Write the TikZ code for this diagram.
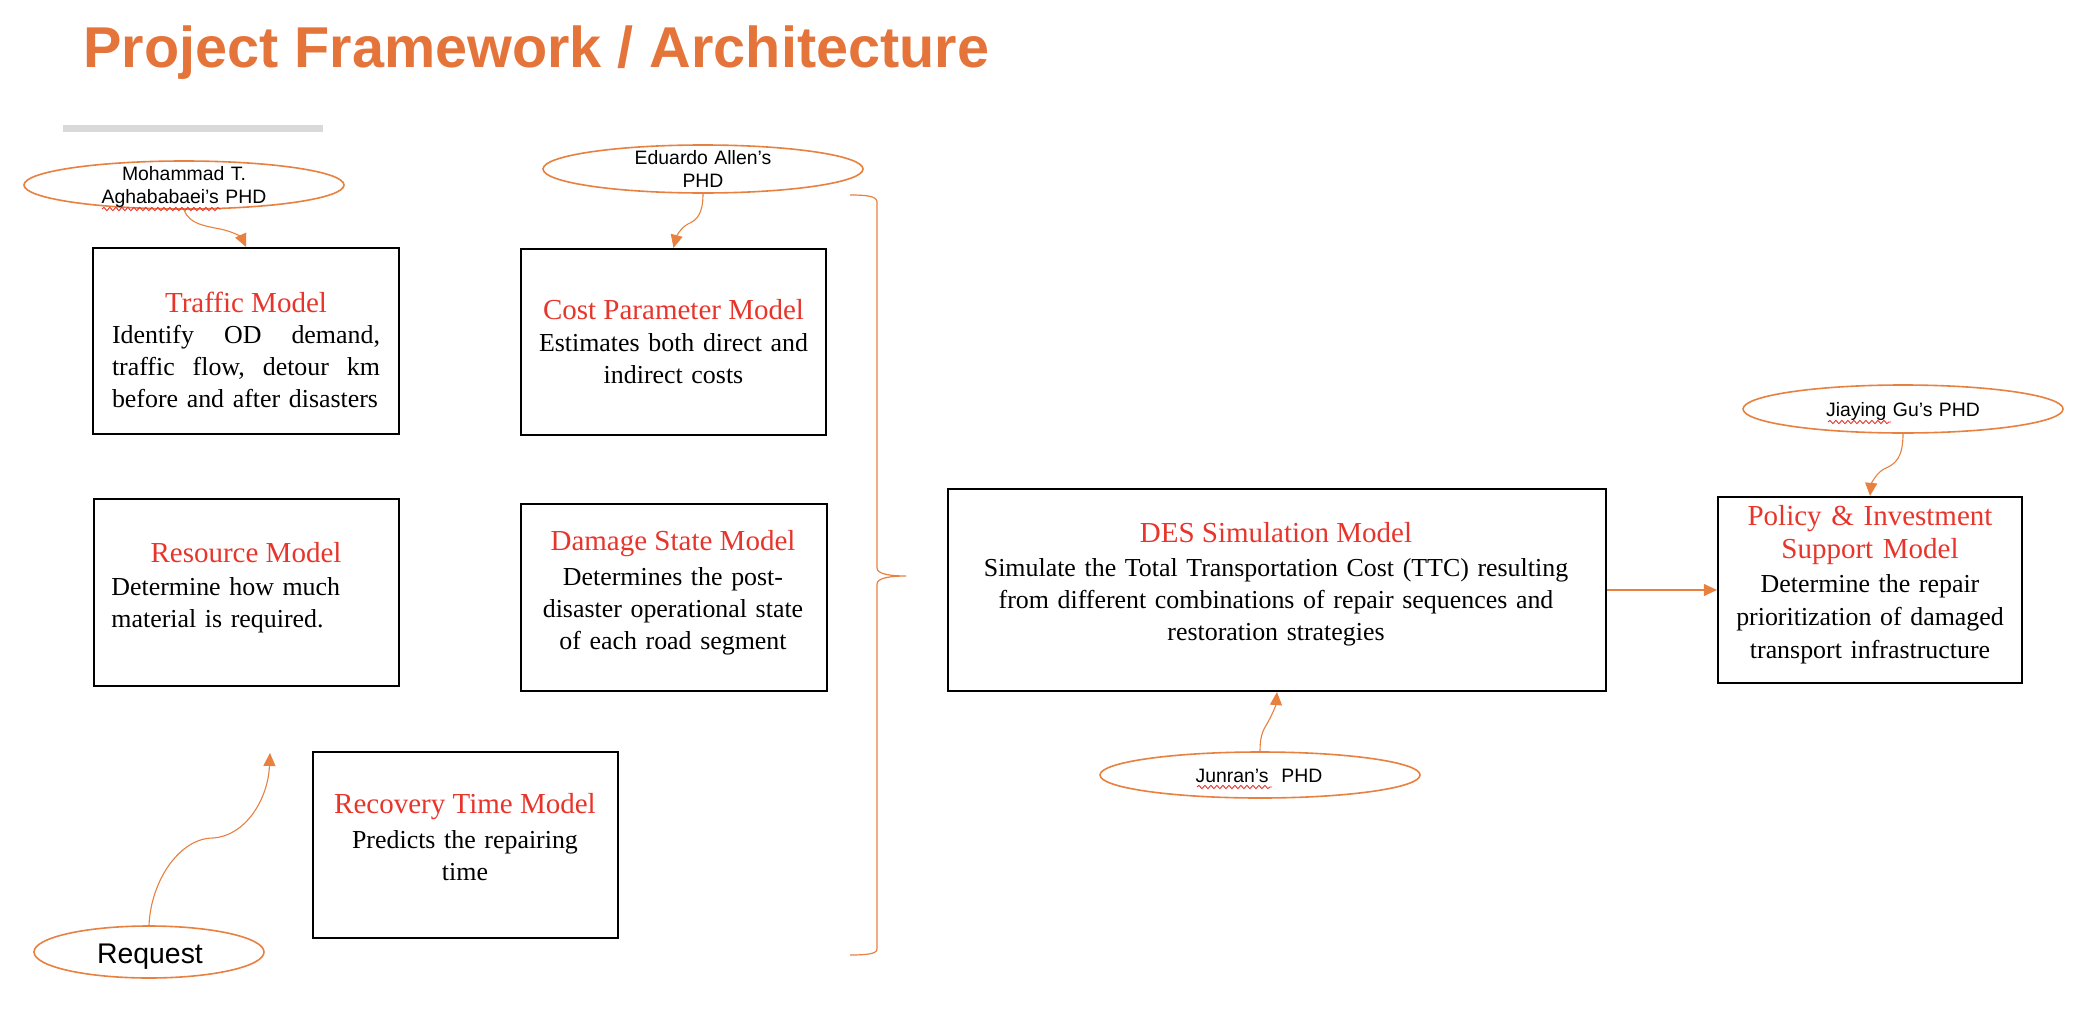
\documentclass[tikz,border=0pt]{standalone}
\usepackage{fontspec}
\setmainfont{Liberation Serif}
\newfontfamily\arialf{Liberation Sans}
\usetikzlibrary{shapes.geometric,arrows.meta,decorations.pathmorphing}
\definecolor{ttl}{HTML}{E4743A}
\definecolor{org}{HTML}{E8803F}
\definecolor{mred}{HTML}{E8352B}
\definecolor{bar}{HTML}{D9D9D9}
\begin{document}
\begin{tikzpicture}[x=0.5pt,y=-0.5pt,
  mbox/.style={draw=black,line width=1.1pt,rectangle,inner sep=0pt},
  phd/.style={ellipse,draw=org,line width=0.8pt,inner sep=0pt,minimum width=160pt,minimum height=24pt},
  phdtxt/.style={inner sep=0pt,anchor=base,text width=160pt,align=center,font=\arialf\fontsize{9.7}{11.5}\selectfont},
  mtitle/.style={inner sep=0pt,anchor=base,text=mred,font=\fontsize{14.5}{16}\selectfont},
  mbody/.style={inner sep=0pt,anchor=base,text width=#1,align=center,font=\fontsize{12.95}{16}\selectfont},
  conn/.style={draw=org,line width=0.55pt,-{Triangle[length=6.5pt,width=6pt]},fill=none},
  wavy/.style={draw=mred,line width=0.45pt,decorate,decoration={snake,amplitude=0.8pt,segment length=3pt}}
]
\useasboundingbox (0,0) rectangle (2092,1022);
\fill[white] (0,0) rectangle (2092,1022);

% title
\node[anchor=base west,inner sep=0pt,text=ttl,font=\arialf\bfseries\fontsize{28.8}{35}\selectfont] (title) at (83,68) {Project Framework / Architecture};
\fill[bar] (63,125) rectangle (323,132);

% boxes
\node[mbox,minimum width=153pt,minimum height=93pt] (traffic) at (246,341) {};
\node[mbox,minimum width=152.5pt,minimum height=93pt] (cost) at (673.5,342) {};
\node[mbox,minimum width=152.5pt,minimum height=93.5pt] (resource) at (246.5,592.5) {};
\node[mbox,minimum width=153pt,minimum height=93.5pt] (damage) at (674,597.5) {};
\node[mbox,minimum width=152.5pt,minimum height=93pt] (recovery) at (465.5,845) {};
\node[mbox,minimum width=329pt,minimum height=101pt] (des) at (1277,590) {};
\node[mbox,minimum width=152pt,minimum height=93pt] (policy) at (1870,590) {};

% box texts
\node[mtitle] (tTraffic) at (246,312) {Traffic Model};
\node[mbody=134pt,align=left] (bTraffic) at (246,343) {\makebox[134pt][l]{Identify\hfill OD\hfill demand,}\\\makebox[134pt][l]{traffic\hfill flow,\hfill detour\hfill km}\\\makebox[134pt][l]{before and after disasters}};

\node[mtitle] (tCost) at (673.5,319) {Cost Parameter Model};
\node[mbody=160pt] (bCost) at (673.5,351) {Estimates both direct and\\indirect costs};

\node[mtitle] (tResource) at (246,562) {Resource Model};
\node[mbody=140pt,align=left,anchor=base west] (bResource) at (111,595) {Determine how much\\material is required.};

\node[mtitle] (tDamage) at (673,550) {Damage State Model};
\node[mbody=160pt] (bDamage) at (673,585) {Determines the post-\\disaster operational state\\of each road segment};

\node[mtitle] (tRecovery) at (465,813) {Recovery Time Model};
\node[mbody=160pt] (bRecovery) at (465,848) {Predicts the repairing\\time};

\node[mtitle] (tDes) at (1276,542) {DES Simulation Model};
\node[mbody=320pt] (bDes) at (1276,576) {Simulate the Total Transportation Cost (TTC) resulting\\from different combinations of repair sequences and\\restoration strategies};

\node[mtitle,text width=150pt,align=center,font=\fontsize{14.5}{16.5}\selectfont] (tPolicy) at (1870,525) {Policy \& Investment\\Support Model};
\node[mbody=150pt,font=\fontsize{12.95}{16.5}\selectfont] (bPolicy) at (1870,592) {Determine the repair\\prioritization of damaged\\transport infrastructure};

% ellipses
\node[phd] (moh) at (184,185) {};
\node[phdtxt] (mohtxt) at (184,180) {Mohammad T.\\Aghababaei’s PHD};
\node[phd] (edu) at (703,169) {};
\node[phdtxt] (edutxt) at (703,164) {Eduardo Allen’s\\PHD};
\node[phd] (jia) at (1903,409) {};
\node[phdtxt] (jiatxt) at (1903,416) {Jiaying Gu’s PHD};
\node[phd,minimum height=23pt] (jun) at (1260,775) {};
\node[phdtxt] (juntxt) at (1259,782) {Junran’s\ \ PHD};
\node[phd,minimum width=115pt,minimum height=26pt] (req) at (149,952) {};
\node[phdtxt,font=\arialf\fontsize{14.2}{16}\selectfont] (reqtxt) at (150,963) {Request};

% spell-check underlines
\draw[wavy] (102,209) -- (221,209);
\draw[wavy] (1197,787) -- (1272,787);
\draw[wavy] (1828,422) -- (1891,422);

% connectors
\coordinate (reqend) at (270,753);
\draw[conn] (moh.south) .. controls (189,224) and (205,226) .. (220,229) .. controls (235,232) and (242,238) .. (traffic.north);
\draw[conn] (edu.south) .. controls (703,214) and (697,220) .. (688,224) .. controls (680,228) and (676,238) .. (cost.north);
\draw[conn] (jia.south) .. controls (1903,458) and (1895,464) .. (1886,468) .. controls (1876,472) and (1871,485) .. (policy.north);
\draw[conn] (jun.north) .. controls (1260,732) and (1265,728) .. (1268,722) .. controls (1272,715) and (1276,705) .. (des.south);
\draw[conn] (req.north) .. controls (151,880) and (180,838) .. (213,838) .. controls (245,836) and (268,800) .. (reqend);
\draw[conn] (des.east) -- (policy.west);

% bracket
\draw[org,line width=0.6pt] (850,195) .. controls (866,195) and (877,196) .. (877,202) -- (877,568) .. controls (877,574) and (890,576) .. (906,576) .. controls (890,576) and (877,578) .. (877,584) -- (877,949) .. controls (877,954) and (866,955) .. (850,955);
\end{tikzpicture}
\end{document}
